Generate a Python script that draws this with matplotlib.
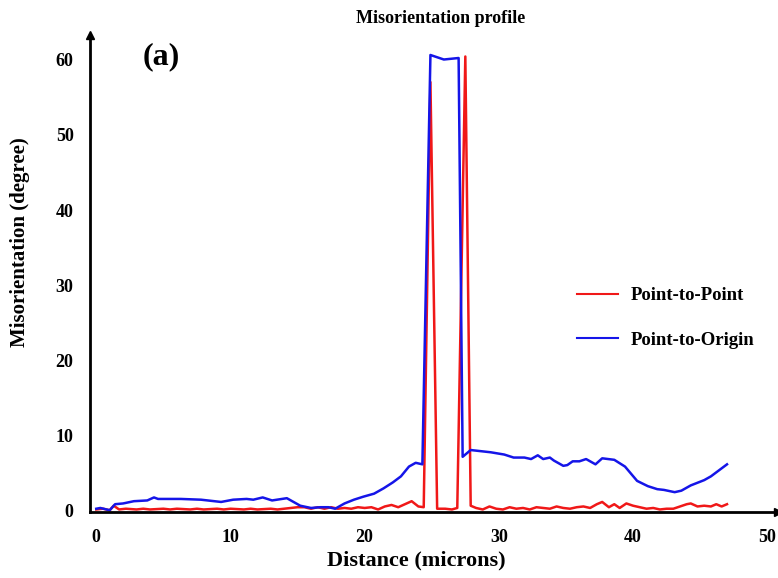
import matplotlib
matplotlib.use("Agg")
import matplotlib.pyplot as plt

# Point-to-Point (red)
p2p_x = [0, 0.5, 1.0, 1.3, 1.7, 2.2, 3.0, 3.5, 4.0, 5.0, 5.5, 6.0, 7.0, 7.5, 8.0, 9.0, 9.5, 10.0,
         11.0, 11.5, 12.0, 13.0, 13.5, 14.0, 14.5, 15.0, 15.5, 16.0, 16.5, 17.0, 17.5, 18.0, 18.5,
         19.0, 19.5, 20.0, 20.5, 21.0, 21.5, 22.0, 22.5, 23.0, 23.5, 24.0, 24.4, 24.9, 25.4, 26.0,
         26.5, 26.9, 27.5, 27.9, 28.3, 28.8, 29.3, 29.8, 30.3, 30.8, 31.3, 31.8, 32.3, 32.8, 33.3,
         33.8, 34.3, 34.8, 35.3, 35.8, 36.3, 36.8, 37.3, 37.7, 38.2, 38.6, 39.0, 39.5, 40.0, 40.5,
         41.0, 41.5, 42.0, 42.5, 43.0, 43.5, 44.0, 44.3, 44.8, 45.3, 45.8, 46.2, 46.6, 47.0]
p2p_y = [0.2, 0.3, 0.1, 0.7, 0.2, 0.3, 0.2, 0.3, 0.2, 0.3, 0.2, 0.3, 0.2, 0.3, 0.2, 0.3, 0.2, 0.3,
         0.2, 0.3, 0.2, 0.3, 0.2, 0.3, 0.4, 0.5, 0.5, 0.3, 0.5, 0.3, 0.5, 0.3, 0.4, 0.3, 0.5, 0.4,
         0.5, 0.2, 0.6, 0.8, 0.5, 0.9, 1.3, 0.6, 0.5, 57.0, 0.3, 0.3, 0.2, 0.4, 60.4, 0.7, 0.4,
         0.2, 0.6, 0.3, 0.2, 0.5, 0.3, 0.4, 0.2, 0.5, 0.4, 0.3, 0.6, 0.4, 0.3, 0.5, 0.6, 0.4,
         0.9, 1.2, 0.5, 0.9, 0.4, 1.0, 0.7, 0.5, 0.3, 0.4, 0.2, 0.3, 0.3, 0.6, 0.9, 1.0, 0.6,
         0.7, 0.6, 0.9, 0.6, 0.9]

# Point-to-Origin (blue)
p2o_x = [0, 0.3, 1.0, 1.4, 2.0, 2.8, 3.8, 4.3, 4.6, 6.3, 7.8, 9.3, 10.2, 11.2, 11.7, 12.4, 13.1,
         14.2, 15.2, 16.0, 16.7, 17.3, 17.8, 18.5, 19.2, 19.9, 20.7, 21.4, 22.1, 22.7, 23.3, 23.8,
         24.3, 24.9, 25.9, 27.0, 27.3, 27.9, 28.4, 29.4, 30.4, 31.1, 31.9, 32.4, 32.9, 33.3, 33.8,
         34.1, 34.8, 35.1, 35.5, 36.0, 36.5, 37.2, 37.7, 38.6, 39.4, 40.3, 41.1, 41.8, 42.3, 43.1,
         43.6, 44.3, 45.3, 45.8, 47.0]
p2o_y = [0.3, 0.4, 0.1, 0.9, 1.0, 1.3, 1.4, 1.8, 1.6, 1.6, 1.5, 1.2, 1.5, 1.6, 1.5, 1.8, 1.4,
         1.7, 0.7, 0.4, 0.5, 0.5, 0.3, 1.0, 1.5, 1.9, 2.3, 3.0, 3.8, 4.6, 5.9, 6.4,
         6.2, 60.6, 60.0, 60.2, 7.2, 8.1, 8.0, 7.8, 7.5, 7.1, 7.1, 6.9, 7.4, 6.9, 7.1,
         6.7, 6.0, 6.1, 6.6, 6.6, 6.9, 6.2, 7.0, 6.8, 5.9, 4.0, 3.3, 2.9, 2.8, 2.5,
         2.7, 3.4, 4.1, 4.6, 6.2]

x_ticks = [0, 10, 20, 30, 40, 50]
y_ticks = [0, 10, 20, 30, 40, 50, 60]

serif = ["Liberation Serif", "DejaVu Serif"]

fig = plt.figure(figsize=(7.78, 5.78), dpi=100)
ax = fig.add_axes([0.116, 0.114, 0.884, 0.826])

ax.plot(p2p_x, p2p_y, color="#f01818", lw=1.8, label="Point-to-Point")
ax.plot(p2o_x, p2o_y, color="#1515e8", lw=1.8, label="Point-to-Origin")

ax.set_xlim(-0.45, 50.8)
ax.set_ylim(-0.15, 63.3)

for s in ["top", "right"]:
    ax.spines[s].set_visible(False)
for s in ["left", "bottom"]:
    ax.spines[s].set_linewidth(2.0)
ax.plot(1, -0.15, ">k", transform=ax.get_yaxis_transform(), clip_on=False, ms=6)
ax.plot(-0.45, 1, "^k", transform=ax.get_xaxis_transform(), clip_on=False, ms=6)

ax.set_xticks(x_ticks)
ax.set_yticks(y_ticks)
ax.tick_params(length=0, pad=12)
for lab in ax.get_xticklabels() + ax.get_yticklabels():
    lab.set_fontfamily(serif)
    lab.set_fontweight("bold")
    lab.set_fontsize(13)

ax.set_xlabel("Distance (microns)", fontfamily=serif, fontweight="bold", fontsize=16)
ax.set_ylabel("Misorientation (degree)", fontfamily=serif, fontweight="bold", fontsize=15)
ax.xaxis.set_label_coords(0.474, -0.08)
ax.yaxis.set_label_coords(-0.087, 0.566)

fig.text(0.566, 0.968, "Misorientation profile", ha="center", va="center",
         fontfamily=serif, fontweight="bold", fontsize=13)
ax.text(0.103, 0.954, "(a)", transform=ax.transAxes, ha="center", va="center",
        fontfamily=serif, fontweight="bold", fontsize=23)

leg = ax.legend(loc="upper left", bbox_to_anchor=(0.708, 0.471), frameon=False,
                prop={"family": serif, "weight": "bold", "size": 13.5}, borderpad=0,
                borderaxespad=0, handlelength=2.2, labelspacing=1.45, handletextpad=0.65)
for h in leg.get_lines():
    h.set_linewidth(1.5)

fig.savefig("out.png", dpi=100)
